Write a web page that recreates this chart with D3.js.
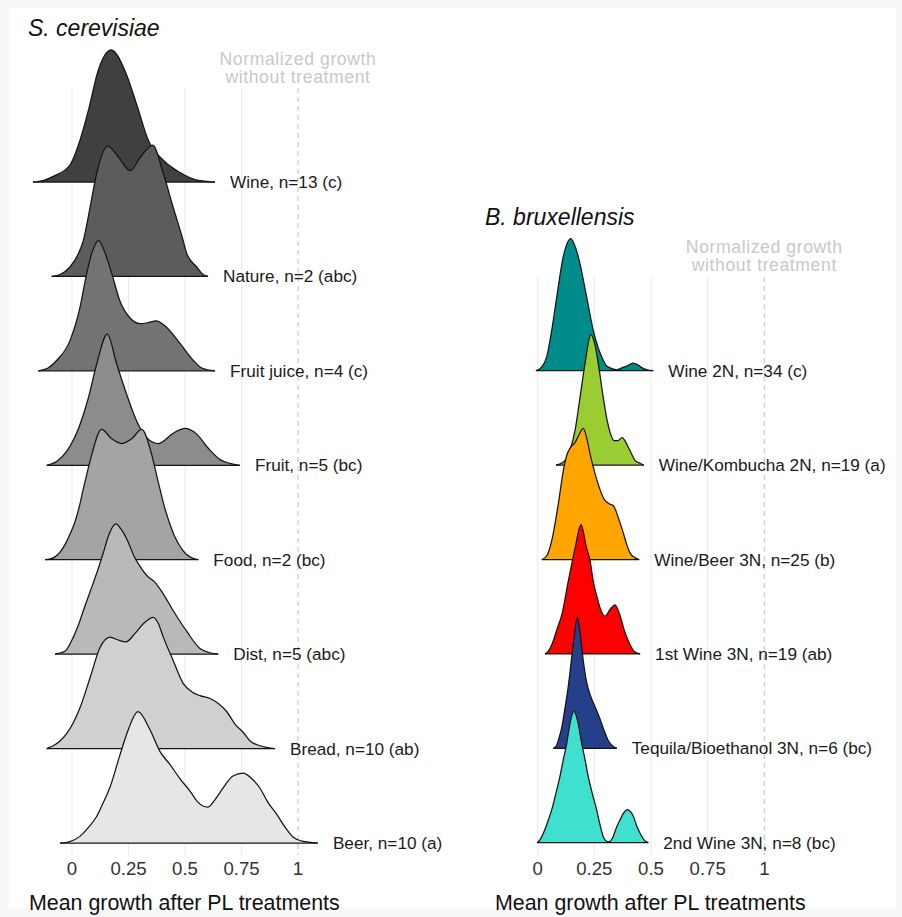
<!DOCTYPE html>
<html>
<head>
<meta charset="utf-8">
<script src="https://cdn.jsdelivr.net/npm/d3@7"></script>
<style>
  html, body { margin: 0; padding: 0; background: #f8f8f8; }
  svg { display: block; }
  text { font-family: "Liberation Sans", Arial, Helvetica, sans-serif; }
</style>
</head>
<body>
<svg id="chart" width="902" height="917"></svg>
<script>
// ---------- DATA ----------
const tickValues = [0, 0.25, 0.5, 0.75, 1];
const tickLabels = ["0", "0.25", "0.5", "0.75", "1"];

const scTitle = "S. cerevisiae";
const bbTitle = "B. bruxellensis";
const refNote = ["Normalized growth", "without treatment"];
const xTitle = "Mean growth after PL treatments";

const scLabels = ["Wine, n=13 (c)", "Nature, n=2 (abc)", "Fruit juice, n=4 (c)", "Fruit, n=5 (bc)",
                  "Food, n=2 (bc)", "Dist, n=5 (abc)", "Bread, n=10 (ab)", "Beer, n=10 (a)"];
const scFills = ["#404040", "#5c5c5c", "#737373", "#8c8c8c", "#a4a4a4", "#b9b9b9", "#d0d0d0", "#e6e6e6"];

const bbLabels = ["Wine 2N, n=34 (c)", "Wine/Kombucha 2N, n=19 (a)", "Wine/Beer 3N, n=25 (b)",
                  "1st Wine 3N, n=19 (ab)", "Tequila/Bioethanol 3N, n=6 (bc)", "2nd Wine 3N, n=8 (bc)"];
const bbFills = ["#008b8b", "#9acd32", "#ffa500", "#ff0000", "#263f8a", "#40e0d0"];

// density profiles: [mean growth, relative density height]
const dWine = [[-0.173,0],[-0.128,0.015],[-0.083,0.06],[-0.009,0.18],[0.035,0.44],[0.077,0.80],[0.112,1.15],
  [0.173,1.40],[0.239,1.15],[0.289,0.80],[0.338,0.44],[0.404,0.23],[0.478,0.10],[0.552,0.02],[0.633,0]];
const dNature = [[-0.090,0],[-0.053,0.02],[-0.009,0.10],[0.028,0.24],[0.050,0.38],[0.080,0.73],[0.109,1.09],
  [0.158,1.38],[0.204,1.27],[0.257,1.12],[0.305,1.27],[0.357,1.39],[0.404,1.09],[0.448,0.73],[0.492,0.38],
  [0.508,0.24],[0.552,0.10],[0.575,0.03],[0.602,0]];
const dFruitJuice = [[-0.149,0],[-0.106,0.03],[-0.068,0.11],[-0.009,0.32],[0.035,0.67],[0.065,1.03],[0.088,1.25],
  [0.117,1.38],[0.146,1.25],[0.176,1.03],[0.212,0.74],[0.257,0.56],[0.301,0.50],[0.336,0.51],[0.372,0.53],
  [0.419,0.46],[0.478,0.29],[0.537,0.11],[0.574,0.03],[0.633,0]];
const dFruit = [[-0.112,0],[-0.068,0.04],[-0.023,0.15],[0.035,0.43],[0.072,0.71],[0.109,1.07],[0.156,1.39],
  [0.198,1.07],[0.242,0.75],[0.286,0.47],[0.331,0.29],[0.382,0.23],[0.448,0.34],[0.500,0.39],[0.552,0.33],
  [0.603,0.18],[0.655,0.06],[0.699,0.02],[0.743,0]];
const dFood = [[-0.119,0],[-0.097,0.008],[-0.075,0.03],[-0.053,0.08],[-0.031,0.16],[-0.009,0.27],[0.013,0.40],
  [0.031,0.55],[0.050,0.75],[0.068,0.93],[0.087,1.11],[0.131,1.38],[0.176,1.28],[0.220,1.23],[0.264,1.28],
  [0.308,1.38],[0.353,1.11],[0.371,0.93],[0.389,0.75],[0.409,0.56],[0.430,0.40],[0.452,0.26],[0.476,0.15],
  [0.504,0.06],[0.530,0.02],[0.559,0]];
const dDist = [[-0.075,0],[-0.031,0.03],[0.000,0.15],[0.027,0.30],[0.053,0.48],[0.080,0.66],[0.111,0.87],
  [0.137,1.06],[0.164,1.27],[0.193,1.38],[0.221,1.31],[0.248,1.19],[0.274,1.04],[0.301,0.93],[0.332,0.83],
  [0.367,0.76],[0.398,0.66],[0.448,0.46],[0.508,0.24],[0.566,0.06],[0.602,0.02],[0.647,0]];
const dBread = [[-0.112,0],[-0.083,0.03],[-0.053,0.08],[-0.023,0.16],[0.035,0.43],[0.080,0.75],[0.124,1.07],
  [0.168,1.18],[0.204,1.15],[0.239,1.13],[0.279,1.22],[0.319,1.33],[0.360,1.39],[0.381,1.33],[0.404,1.18],
  [0.448,0.93],[0.492,0.69],[0.531,0.60],[0.566,0.56],[0.611,0.53],[0.646,0.48],[0.685,0.39],[0.721,0.26],
  [0.758,0.17],[0.788,0.08],[0.832,0.03],[0.898,0]];
const dBeer = [[-0.053,0],[-0.016,0.01],[0.035,0.07],[0.071,0.16],[0.109,0.28],[0.137,0.42],[0.168,0.59],
  [0.212,0.93],[0.249,1.20],[0.292,1.39],[0.345,1.20],[0.389,0.97],[0.434,0.83],[0.478,0.68],[0.522,0.55],
  [0.558,0.43],[0.600,0.38],[0.633,0.46],[0.668,0.58],[0.712,0.71],[0.757,0.74],[0.796,0.68],[0.832,0.58],
  [0.867,0.43],[0.907,0.30],[0.942,0.17],[0.979,0.06],[1.018,0.02],[1.088,0]];

const dWine2N = [[-0.008,0],[0.018,0.04],[0.040,0.15],[0.062,0.43],[0.084,0.78],[0.113,1.21],[0.146,1.40],
  [0.169,1.29],[0.187,1.13],[0.216,0.78],[0.245,0.43],[0.266,0.25],[0.282,0.15],[0.301,0.06],[0.319,0.03],
  [0.349,0.01],[0.372,0.03],[0.394,0.05],[0.421,0.08],[0.443,0.06],[0.461,0.03],[0.483,0.01],[0.510,0]];
const dKombucha = [[0.081,0],[0.113,0.03],[0.143,0.16],[0.165,0.37],[0.187,0.72],[0.209,1.08],[0.235,1.38],
  [0.253,1.27],[0.267,1.08],[0.289,0.72],[0.306,0.48],[0.319,0.35],[0.337,0.26],[0.354,0.26],[0.372,0.29],
  [0.385,0.26],[0.400,0.19],[0.416,0.11],[0.429,0.05],[0.451,0.02],[0.468,0]];
const dWineBeer = [[0.018,0],[0.040,0.04],[0.062,0.20],[0.091,0.59],[0.113,0.94],[0.129,1.11],[0.143,1.18],
  [0.165,1.24],[0.182,1.32],[0.201,1.39],[0.218,1.27],[0.231,1.12],[0.253,0.91],[0.275,0.74],[0.293,0.64],
  [0.315,0.59],[0.334,0.57],[0.346,0.51],[0.356,0.44],[0.378,0.28],[0.394,0.15],[0.407,0.07],[0.429,0.02],[0.448,0]];
const dFirstWine = [[0.032,0],[0.047,0.03],[0.069,0.14],[0.085,0.26],[0.106,0.41],[0.135,0.77],[0.165,1.12],
  [0.191,1.37],[0.216,1.12],[0.231,0.99],[0.245,0.77],[0.260,0.62],[0.275,0.49],[0.297,0.40],[0.319,0.47],
  [0.341,0.52],[0.363,0.41],[0.381,0.26],[0.394,0.17],[0.407,0.10],[0.429,0.02],[0.452,0]];
const dTequila = [[0.069,0],[0.081,0.02],[0.094,0.11],[0.107,0.23],[0.120,0.42],[0.134,0.64],[0.147,0.90],
  [0.158,1.12],[0.175,1.39],[0.187,1.22],[0.201,0.93],[0.216,0.70],[0.231,0.57],[0.253,0.44],[0.275,0.31],
  [0.293,0.19],[0.312,0.08],[0.328,0.03],[0.349,0]];
const dSecondWine = [[-0.003,0],[0.010,0.03],[0.025,0.10],[0.041,0.20],[0.062,0.35],[0.081,0.53],[0.098,0.70],
  [0.113,0.88],[0.128,1.05],[0.143,1.27],[0.160,1.39],[0.178,1.27],[0.194,1.05],[0.209,0.88],[0.223,0.70],
  [0.240,0.53],[0.260,0.35],[0.275,0.19],[0.290,0.06],[0.301,0.02],[0.316,0.01],[0.328,0.04],[0.349,0.17],
  [0.363,0.24],[0.378,0.31],[0.396,0.35],[0.412,0.32],[0.422,0.28],[0.438,0.17],[0.452,0.10],[0.469,0.03],[0.488,0]];

const scDensities = [dWine, dNature, dFruitJuice, dFruit, dFood, dDist, dBread, dBeer];
const bbDensities = [dWine2N, dKombucha, dWineBeer, dFirstWine, dTequila, dSecondWine];

// ---------- DRAW ----------
const svg = d3.select("#chart");
svg.append("rect").attr("x", 9).attr("y", 8).attr("width", 887).attr("height", 900).attr("fill", "#ffffff");

function panel(cfg) {
  const g = svg.append("g");
  const x = d3.scaleLinear().domain([0, 1]).range(cfg.xRange);
  const y = d3.scalePoint().domain(cfg.labels).range(cfg.yRange);
  const step = y.step();
  const h = d3.scaleLinear().domain([0, 1]).range([0, step]);

  // grid
  g.selectAll("line.grid").data(tickValues.slice(0, 4)).join("line")
    .attr("x1", d => x(d)).attr("x2", d => x(d))
    .attr("y1", cfg.gridTop).attr("y2", cfg.gridBottom)
    .attr("stroke", "#ebebeb").attr("stroke-width", 1.1);
  g.append("line")
    .attr("x1", x(1)).attr("x2", x(1)).attr("y1", cfg.gridTop).attr("y2", cfg.gridBottom)
    .attr("stroke", "#c4c4c4").attr("stroke-width", 1.1).attr("stroke-dasharray", "5,4");

  // annotation (two lines)
  refNote.forEach((t, i) => {
    g.append("text").attr("text-anchor", "middle")
      .attr("x", x(1)).attr("y", cfg.noteY + i * 18.4)
      .attr("fill", "#c8c8c8").style("font-size", "17.6px").style("letter-spacing", "0.6px")
      .text(t);
  });

  // title
  g.append("text").attr("x", cfg.titleX).attr("y", cfg.titleY)
    .style("font-size", "23px").style("font-style", "italic").attr("fill", "#111").text(cfg.title);

  // ridges
  const area = d3.area().curve(d3.curveMonotoneX)
    .x(d => x(d[0])).y0(0).y1(d => -h(d[1]));
  const line = d3.line().curve(d3.curveMonotoneX)
    .x(d => x(d[0])).y(d => -h(d[1]));

  const ridges = g.selectAll("g.ridge").data(cfg.labels).join("g")
    .attr("transform", d => `translate(0,${y(d)})`);
  ridges.append("path").attr("d", (d, i) => area(cfg.densities[i]))
    .attr("fill", (d, i) => cfg.fills[i]);
  ridges.append("path").attr("d", (d, i) => line(cfg.densities[i]))
    .attr("fill", "none").attr("stroke", "#141414").attr("stroke-width", 1.25);
  ridges.append("line")
    .attr("x1", (d, i) => x(cfg.densities[i][0][0]))
    .attr("x2", (d, i) => x(cfg.densities[i][cfg.densities[i].length - 1][0]))
    .attr("y1", 0).attr("y2", 0).attr("stroke", "#141414").attr("stroke-width", 1.25);
  ridges.append("text")
    .attr("x", (d, i) => x(cfg.densities[i][cfg.densities[i].length - 1][0]) + 15)
    .attr("y", 6).style("font-size", "17.2px").attr("fill", "#1a1a1a").text(d => d);

  // x axis labels
  g.selectAll("text.tick").data(tickValues).join("text")
    .attr("x", d => x(d)).attr("y", 875).attr("text-anchor", "middle")
    .style("font-size", "18.6px").attr("fill", "#333").text((d, i) => tickLabels[i]);
  g.append("text").attr("x", cfg.axisTitleX).attr("y", 910)
    .style("font-size", "21.4px").attr("fill", "#111").text(xTitle);
}

panel({
  xRange: [72, 298], yRange: [182, 843], labels: scLabels, densities: scDensities, fills: scFills,
  gridTop: 88, gridBottom: 855, noteY: 64.5, title: scTitle, titleX: 28, titleY: 36, axisTitleX: 29
});
panel({
  xRange: [537.7, 764.3], yRange: [370.7, 842.7], labels: bbLabels, densities: bbDensities, fills: bbFills,
  gridTop: 277, gridBottom: 855, noteY: 252.5, title: bbTitle, titleX: 485, titleY: 225, axisTitleX: 495
});
</script>
</body>
</html>
